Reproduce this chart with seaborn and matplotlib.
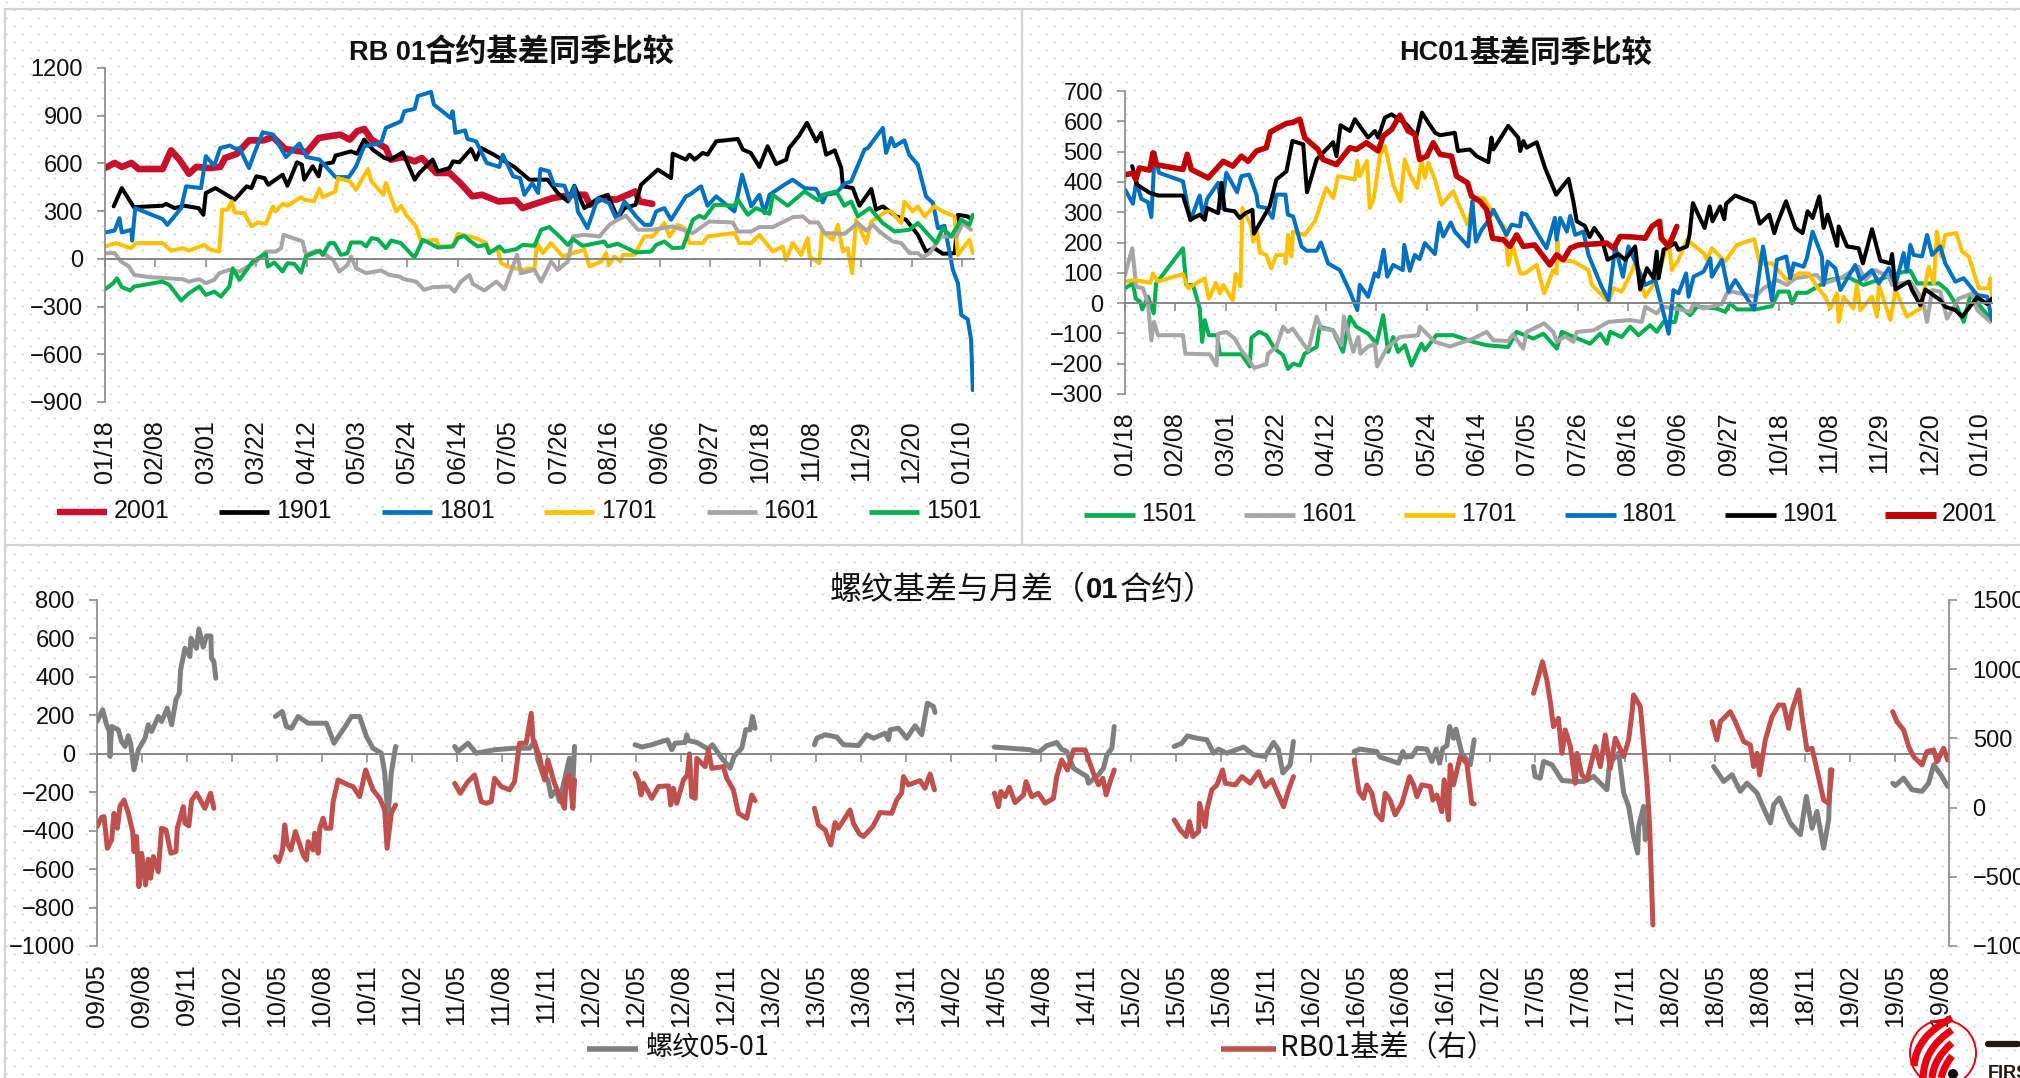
import numpy as np
import pandas as pd
import matplotlib
matplotlib.use('Agg')
import matplotlib.pyplot as plt
from matplotlib.lines import Line2D
from matplotlib.patches import Circle, PathPatch
from matplotlib.path import Path
import seaborn as sns

# season ticks, every 21 days
season_ticks = ['01/18', '02/08', '03/01', '03/22', '04/12', '05/03', '05/24', '06/14', '07/05',
                '07/26', '08/16', '09/06', '09/27', '10/18', '11/08', '11/29', '12/20', '01/10']
month_ticks = ['09/05', '09/08', '09/11', '10/02', '10/05', '10/08', '10/11', '11/02', '11/05', '11/08', '11/11',
               '12/02', '12/05', '12/08', '12/11', '13/02', '13/05', '13/08', '13/11', '14/02', '14/05', '14/08',
               '14/11', '15/02', '15/05', '15/08', '15/11', '16/02', '16/05', '16/08', '16/11', '17/02', '17/05',
               '17/08', '17/11', '18/02', '18/05', '18/08', '18/11', '19/02', '19/05', '19/08']

# RB 01 basis, (day, value)
rb2001 = [(0,571),(4,603),(7,578),(11,603),(14,565),(24,565),(27.5,682),(31,624),(35,535),(38,578),(43.5,571),
          (48,578),(50,634),(55,661),(60,745),(66,745),(70,766),(75,691),(84,670),(89,760),(93.5,771),(98,781),
          (102,750),(105,802),(108,817),(111,750),(117,697),(119,624),(124,640),(129,613),(132,634),(138,540),
          (143.5,540),(148,477),(153,393),(157,403),(164,361),(171,368),(174,319),(178,340),(186.5,382),(195,403),
          (200,403),(202,340),(207,382),(213,372),(221,424),(222.6,361),(228,346)]
rb1901 = [(3.6,330),(7,445),(12,325),(24,334),(25.4,346),(29,319),(33,334),(39,319),(41,277),(42,414),(46,445),
          (54,372),(59,456),(61,445),(63,519),(66.4,508),(68,466),(74,529),(76,460),(80,607),(82,592),(83,498),
          (86.5,582),(89,519),(90,592),(95,607),(96,649),(102.5,676),(105,661),(108,750),(111.5,687),(116.4,634),
          (119,624),(124,670),(129,498),(131,540),(136.5,624),(138.6,550),(143.5,571),(145,613),(147.6,607),
          (152.5,691),(154.6,624),(156.7,697),(162,655),(170.5,578),(176.8,498),(184.4,498),(188.6,414),(192.8,361),
          (195.5,460),(199.7,319),(206,382),(209.4,403),(213.6,256),(216.4,319),(221,340),(223.3,466),(230.3,561),
          (235.8,508),(236.5,661),(242,624),(243.5,655),(245.6,624),(249,666),(251,655),(254.6,739),(263.6,754),
          (265.7,687),(269,666),(272.6,578),(276,708),(279.6,596),(283.8,624),(285,697),(289,771),(292.4,855),
          (296.3,739),(298.3,792),(300.4,655),(304,682),(306.7,571),(307.4,456),(311.5,445),(314.3,334),(319.2,439),
          (321.2,309),(324,330),(329.6,267),(333.7,246),(338.6,151),(342,46),(345.5,67),(349,32),(354,36),(355.3,277),
          (359.4,267),(360.8,250)]
rb1801 = [(0,166),(4,178),(6,256),(7,166),(11,183),(11.3,115),(12.6,319),(24,250),(26,214),(31.7,319),(33.8,456),
          (40,445),(42,645),(45.5,586),(48,697),(52,712),(54.6,691),(56,697),(60,571),(62,655),(65.7,796),(70,781),
          (75.4,640),(81,725),(84,640),(89.4,624),(96,514),(101.6,514),(104.6,582),(108,708),(115,729),(117,823),
          (123.3,865),(124.7,928),(129,943),(130.3,1023),(135.8,1050),(137,970),(144,886),(144.8,928),(146,792),
          (150,808),(151,754),(154.6,739),(159,603),(164.3,578),(165.7,655),(170,519),(172.9,508),(174.7,403),
          (178,477),(180.4,414),(181.4,565),(185,550),(187,466),(191.4,460),(193.5,372),(195.5,456),(197,298),
          (201,193),(205.3,382),(210,351),(213.2,246),(216.4,361),(221.2,267),(224.7,214),(227.5,214),(229.6,298),
          (233,319),(235.8,246),(242,393),(243.5,403),(248.3,456),(251,334),(254.6,393),(262.2,298),(265.4,529),
          (269.2,330),(272.6,403),(274.7,288),(276.8,403),(283,466),(286.5,498),(291.4,445),(296.2,439),(299,355),
          (300.4,403),(304.6,414),(308,472),(310.8,487),(316.4,687),(317.8,697),(324,823),(325.4,666),(327.5,760),
          (328.9,708),(333,745),(335,655),(338.6,592),(342,393),(344.9,351),(347,193),(349.7,208),(353.2,-69),
          (355.3,-153),(356.7,-353),(359.4,-380),(360.8,-510),(361.5,-825)]
rb1701 = [(0,78),(4.6,99),(10.8,67),(13,99),(24,99),(27.5,52),(32.4,67),(35,52),(41.4,88),(44,57),(47.6,46),
          (48.8,309),(51,309),(52.8,361),(54,292),(58,288),(61,204),(63.6,229),(67,220),(68.5,277),(70,330),(71,298),
          (74,346),(76,334),(81.7,388),(83,372),(87,361),(89.3,439),(90.7,388),(96,424),(97,508),(102,487),(104.6,435),
          (109.5,565),(111,487),(116,403),(117,477),(121.3,298),(123.3,334),(125.4,277),(129.6,204),(131.7,109),
          (138,120),(139,78),(144.8,78),(147,157),(154.6,130),(158.8,99),(160,46),(163.6,57),(165,-27),(167.8,-48),
          (174,-69),(178.9,-59),(180,99),(182.4,36),(185.8,99),(190.7,15),(194.9,36),(199.7,57),(201.8,-48),
          (206.7,-17),(208.7,36),(209.9,-38),(212.2,15),(214.6,-17),(215.7,25),(220.5,25),(224.7,141),(228.2,141),
          (233,225),(235.1,141),(238.6,214),(241.4,193),(243.5,99),(249,99),(251.1,141),(262.2,162),(264.3,99),
          (269.2,99),(272.6,151),(278.2,46),(282.3,78),(283.7,-6),(286.5,99),(290,25),(292.8,130),(293.5,15),
          (297.6,-27),(298.7,172),(303.2,120),(305.3,214),(307.4,46),(309.4,67),(311.2,-90),(312.9,246),(317.1,99),
          (319.2,235),(325.4,298),(327.5,298),(331.7,225),(333,361),(336.5,298),(338.6,330),(341.4,267),(345.5,330),
          (349,298),(353.9,267),(355.3,25),(360.1,120),(361.5,36)]
rb1601 = [(0,36),(4,36),(6.7,-17),(10,-48),(12.2,-101),(18.5,-115),(32.4,-128),(35,-143),(39.3,-128),(42,-153),
          (45.5,-132),(47.6,-90),(51.8,-69),(56,-80),(63,-17),(67,46),(71.2,46),(73.3,67),(74.4,151),(79.6,124),
          (82.3,109),(83.7,25),(88,52),(92,25),(95,-6),(97.6,-80),(101,-38),(102.5,15),(104.6,-59),(108.8,-90),
          (115,-73),(118.5,-101),(122.6,-111),(124.7,-128),(129.6,-143),(133,-195),(136.5,-178),(143.5,-174),
          (145.6,-206),(148.3,-143),(151.8,-101),(153.2,-157),(158,-199),(163,-143),(166.4,-191),(171.7,25),
          (173.3,-90),(178.9,-69),(181.7,-143),(185.8,-17),(188.6,-69),(192.8,-17),(194.9,141),(199.7,151),(206,141),
          (210.1,214),(213.6,246),(217,271),(222,183),(228.2,183),(236.5,204),(244.9,162),(251.8,235),(261.5,229),
          (263.6,172),(269.2,172),(272.6,200),(278.2,200),(286.5,262),(290.7,267),(293.5,229),(297,229),(299.7,162),
          (308,157),(313.6,225),(317.1,178),(319.9,214),(322.6,172),(328.2,109),(331.7,99),(335.1,36),(338.6,36),
          (340.7,10),(343.5,36),(348.3,141),(354.6,141),(357.4,225),(360.8,183)]
rb1501 = [(0,-191),(3.2,-157),(5,-122),(7,-178),(10.4,-199),(12.2,-174),(24,-143),(26.8,-164),(31.7,-262),(35,-216),
          (39.3,-174),(42,-227),(45.5,-206),(48.3,-237),(51.8,-174),(53.2,-59),(56,-132),(61.5,-17),(67,32),(67.8,-48),
          (70.6,-23),(74,-80),(76,-27),(78.9,-32),(81.7,-86),(83.7,15),(89.4,52),(90.7,25),(93.5,99),(95.5,99),(98.3,25),
          (101,36),(102.5,103),(106.7,103),(108.8,78),(111,130),(113.6,124),(117,67),(119.2,115),(123.3,99),(128.9,8),
          (132.4,120),(138.6,71),(144.9,78),(147,130),(149.7,145),(151.8,115),(155.3,78),(158.8,88),(160,36),(164.3,78),
          (166.4,46),(171.3,61),(174,88),(178.9,82),(181.7,183),(185.1,200),(189.3,141),(192.8,88),(194.9,124),(199,82),
          (208,109),(209.4,78),(213.6,95),(221.2,40),(227.5,46),(229.6,88),(233,109),(236.5,67),(240.7,71),(244.9,246),
          (247.6,271),(249.7,256),(253.9,340),(262.2,334),(263.6,372),(267.8,277),(271.2,319),(276.8,283),(278.2,403),
          (284.4,334),(291.4,424),(297,368),(299,403),(304.6,424),(308,334),(310.8,361),(313.6,267),(318.5,319),(324,225),
          (328.9,172),(335.1,183),(338.6,225),(346.2,99),(349,193),(352.5,141),(356.7,246),(360.1,214),(361.5,277)]

# HC 01 basis, (day, value)
hc2001 = [(0,424),(3.3,428),(4.5,408),(6,446),(10.3,439),(11.7,496),(13,457),(24.2,441),(26,491),(27.7,441),(34.7,413),
          (41,468),(45,452),(48.6,485),(51.4,468),(54.9,502),(59,513),(60.7,565),(67.4,593),(70,596),(73,607),(75,546),
          (80.6,507),(82.7,474),(88.3,457),(93.9,513),(96.6,507),(100.8,529),(105.7,502),(107.8,551),(111.3,573),
          (114.8,620),(118.2,568),(121,557),(123,474),(126,485),(128.7,529),(131.5,491),(136.3,485),(138.4,419),(143,397),
          (144.7,353),(148.2,336),(151,308),(153.5,214),(158,209),(160.7,187),(163.5,225),(166.3,187),(171,192),(177.4,126),
          (180.2,159),(183,143),(185.9,181),(189.3,192),(201.2,198),(204,181),(206.7,220),(212.3,218),(217.2,214),(220,253),
          (223.2,270),(223.9,214),(227,187),(230.4,253)]
hc1901 = [(3,452),(5,391),(10.3,364),(13.8,355),(24.2,355),(27.3,275),(31.2,292),(33.3,275),(34.3,314),(38.9,297),
          (40.3,397),(41.6,308),(45.8,303),(47.9,281),(50.4,297),(53.2,308),(53.8,229),(60.4,319),(63.2,408),(67.4,435),
          (69.9,535),(74.4,524),(76,366),(80,474),(86.9,531),(88.3,485),(90,587),(93.9,568),(96,607),(101.5,546),(104.3,568),
          (105.7,546),(108.5,612),(111.3,623),(117.5,590),(121.7,551),(124,629),(126.6,596),(129.5,562),(131.5,554),
          (137.7,562),(139,502),(144,507),(146.8,485),(151.7,465),(153,546),(153.8,507),(160,585),(164.2,546),(165,502),
          (166.3,535),(167.7,513),(171.9,531),(175.4,446),(180,358),(185.2,410),(187.2,336),(188.6,270),(192,255),(194,218),
          (195.9,248),(199,214),(201.5,143),(206,162),(208.8,143),(213,187),(215.1,45),(217.9,115),(220.7,82),(222,170),
          (222.8,82),(224.9,176),(229.7,198),(231.1,176),(234.6,187),(235.7,225),(237.1,330),(242,248),(244.1,319),
          (245.3,270),(248.5,319),(250.2,277),(251,328),(254.8,355),(262.7,330),(265,262),(269,292),(271.1,231),(272.5,266),
          (276,336),(279.9,248),(282.9,231),(285,303),(287.1,281),(289.9,352),(291.7,248),(293.4,292),(297.3,189),(298,253),
          (301.5,187),(306.3,181),(308.1,131),(311.9,244),(315.4,140),(319.6,131),(320.3,162),(321.7,45),(327.2,71),(328.6,43),
          (332.1,-7),(334.2,45),(340.4,10),(342.5,-12),(346.7,-23),(349.5,-45),(355.8,19),(360,-3),(362,15)]
hc1801 = [(0,375),(3.3,328),(4.7,402),(6.8,344),(9.6,333),(11,284),(12.4,496),(14.2,430),(24.2,402),(27.3,273),(31.2,355),
          (32.6,286),(34.3,344),(38.9,397),(40.3,314),(42.3,430),(46.8,366),(48.6,419),(51.8,424),(54.9,358),(55.6,319),
          (59,314),(61.6,281),(63.2,358),(67,358),(68,292),(70.2,286),(73.7,187),(75.8,173),(80,173),(81.8,200),(84.8,131),
          (89.7,109),(93.9,38),(97,-23),(98,60),(101.5,21),(104.3,98),(105.7,87),(108,176),(109.5,87),(112,126),(116,109),
          (116.6,192),(118.9,107),(121,159),(123,145),(125.2,198),(129.4,162),(131.2,266),(132.9,220),(136,266),(137.7,236),
          (143.3,187),(145,336),(146.5,203),(148.9,242),(151,264),(153.8,308),(159.3,225),(161.4,259),(164.9,253),(165.7,297),
          (167.7,292),(172.6,225),(176,181),(179.5,281),(180.2,209),(181.7,281),(184.5,236),(185.9,288),(188,225),(191.4,236),
          (193.5,159),(199,54),(201.9,10),(204.7,187),(207.9,87),(210.2,187),(217.2,60),(221.4,76),(227,-101),(229,43),
          (231.1,32),(234.3,98),(235.3,21),(237.4,87),(241.6,104),(244.4,148),(245,87),(249.2,143),(252,38),(254.8,76),
          (262.7,-21),(266.4,187),(270.1,10),(272.2,143),(276.1,154),(277.8,82),(279.2,131),(283.3,120),(284.7,148),(287.1,236),
          (291,154),(291.7,60),(293.4,137),(296.6,115),(298.7,43),(304.9,126),(307,76),(311.9,109),(314.7,65),(318.9,115),
          (321.7,60),(325.1,165),(326.5,104),(327.9,192),(329.3,159),(332.8,154),(334.9,225),(337,159),(340.4,187),(342.5,131),
          (346.7,71),(350.2,82),(355.8,27),(360,21),(362,-56)]
hc1701 = [(0,71),(4.3,76),(10.6,67),(11.7,98),(13.8,71),(24.2,96),(26.4,49),(33.3,82),(35,15),(38,67),(39.6,32),(41,60),
          (45,10),(46.2,96),(48.2,56),(49,314),(52.8,253),(53.5,203),(55.2,236),(56.3,167),(59,159),(61,115),(63.2,159),
          (66.7,159),(67.1,131),(68.1,225),(69.5,154),(70.2,236),(75,225),(79.3,270),(84,380),(87,347),(89,419),(96,408),
          (97,469),(98,419),(101,469),(102.2,314),(103.9,347),(106.4,485),(108.5,518),(109.9,469),(112,391),(115,336),
          (116.8,474),(119,424),(122,380),(123.8,469),(125.2,413),(126.6,463),(129.4,408),(132.2,325),(137,369),(143,259),
          (146,347),(149.6,347),(153.8,297),(158.6,248),(160,126),(162,187),(165,98),(167,98),(171.9,126),(175,32),(178.8,109),
          (180.2,98),(180.5,209),(181,143),(187.3,137),(193.5,109),(194.9,60),(201.9,4),(204,49),(207.4,38),(210.9,93),(213,131),
          (217.2,21),(222,76),(227,209),(228.3,109),(231.1,143),(234.6,209),(241.6,165),(243,143),(245,181),(250.6,137),(252,154),
          (255.5,192),(262.7,211),(265,131),(270.1,131),(276.4,76),(281.3,98),(285.4,98),(288.9,54),(292.4,21),(294.5,-18),
          (297.3,32),(298,-62),(300,21),(304.2,-18),(305.6,60),(307,-23),(311.9,21),(314,-45),(314.7,60),(319.6,-56),(321.7,43),
          (326.5,-45),(332.1,-18),(335.6,120),(337.7,65),(339,236),(340.7,154),(342.5,225),(347.1,231),(349.5,170),(352.3,154),
          (356.5,49),(360.6,49),(361.3,82),(362,21)]
hc1601 = [(0,93),(3,181),(4.7,54),(7.5,49),(9.6,-1),(11,-123),(12.1,-62),(13.8,-106),(24.2,-106),(25.2,-167),(35.4,-169),
          (38.2,-206),(38.9,-101),(42.3,-95),(45.8,-117),(48.6,-156),(51.4,-183),(53.9,-214),(59,-202),(59.7,-167),(63.2,-145),
          (66,-78),(68,-95),(70,-84),(74.4,-134),(76.5,-156),(80,-45),(82,-84),(86.9,-90),(90.4,-139),(91.4,-45),(95.3,-161),
          (97.4,-112),(98.3,-167),(101.5,-143),(104.3,-136),(105.3,-209),(109.2,-150),(114.8,-112),(122.4,-106),(123.1,-78),
          (129.4,-128),(135.7,-143),(145.4,-117),(151,-95),(153.8,-123),(160,-125),(162,-103),(166.3,-150),(167.7,-95),(175,-67),
          (178.8,-95),(180.3,-128),(183.8,-109),(187.2,-128),(188.6,-95),(195.6,-90),(201.9,-62),(210.9,-56),(215.8,-62),
          (217.2,-12),(222,-34),(224.2,-12),(230.4,-18),(236,-29),(237.4,-1),(241.6,-18),(249.2,-3),(251.3,32),(253.4,38),
          (263.2,21),(266.6,49),(272.2,76),(276.4,60),(279.9,82),(288.9,93),(291.7,65),(298.7,82),(306.3,120),(309.1,76),
          (313.3,109),(318.9,87),(320.3,60),(327.9,71),(332.8,15),(334.9,-62),(337,43),(340.4,38),(343.2,-51),(348.1,15),
          (350.2,21),(353.7,32),(355.8,-23),(361.3,-62)]
hc1501 = [(0,49),(3.3,65),(4.5,15),(6.4,4),(7.2,-21),(9.6,21),(12,-34),(13,65),(24.2,181),(25.6,60),(28.4,60),(31.2,-18),
          (32.2,-128),(33.3,-56),(35,-106),(38.5,-106),(39.6,-169),(48.6,-169),(52.1,-209),(52.8,-114),(56,-95),(59,-106),
          (62.5,-150),(66,-172),(68.1,-217),(70.2,-200),(73,-206),(75,-167),(80,-145),(81.3,-78),(86.9,-90),(91,-161),(93.9,-45),
          (96.6,-78),(101.5,-101),(105,-134),(107.8,-40),(109.9,-161),(112,-112),(114,-161),(116.9,-139),(119.6,-206),(123.8,-134),
          (125.2,-156),(130,-106),(137,-106),(145.4,-128),(151,-139),(160,-145),(163.5,-95),(170.5,-117),(174.7,-101),(180.3,-150),
          (182.4,-95),(194.2,-134),(198.4,-101),(201.2,-134),(202.6,-95),(207.4,-112),(210.9,-78),(214.4,-106),(219.3,-73),
          (222,-95),(224.9,-62),(229.7,-62),(231.1,-7),(236,-40),(238.8,-12),(247.1,-18),(250.6,-29),(252.7,-1),(255.5,-21),
          (263.2,-21),(270.1,-10),(272.9,38),(277.1,38),(278.5,-1),(280.6,34),(284.7,34),(293.8,76),(301.5,87),(308.4,60),
          (322.3,98),(327.9,107),(330.7,65),(339.8,65),(343.2,43),(346.7,-1),(350.2,-62),(353,27),(362,-56)]

# rebar 05-01 spread, (month since 09/05, value)
spread_2009 = [(0,168),(.38,229),(.64,151),(.82,116),(.87,-14),(.98,142),(1.42,125),(1.64,64),(1.87,38),(2.09,94),(2.24,55),
               (2.47,-83),(2.76,21),(3.2,81),(3.42,151),(3.64,116),(4.09,194),(4.31,168),(4.69,237),(4.98,151),(5.27,281),
               (5.49,315),(5.58,437),(5.87,549),(6.2,506),(6.27,601),(6.64,549),(6.8,648),(7.09,555),(7.31,613),(7.6,613),
               (7.64,497),(7.8,480),(7.93,393)]
spread_2010 = [(11.9,194),(12.36,220),(12.64,142),(12.98,133),(13.42,194),(14.09,159),(15.31,159),(15.82,55),(16.64,151),
               (16.98,194),(17.53,194),(17.98,90),(18.42,29),(18.98,3),(19.2,-100),(19.42,-326),(19.64,-100),(19.93,38)]
spread_2011 = [(23.87,38),(24.09,12),(24.76,55),(25.31,3),(26.53,21),(27.87,29),(28.87,29),(29.2,64),(29.42,-31),(29.76,-109),
               (30.09,-135),(30.31,-222),(30.64,-187),(30.87,-248),(31.2,-135),(31.53,-23),(31.76,-152),(31.87,38)]
spread_2012 = [(35.91,47),(36.36,35),(37.02,47),(38.07,73),(38.36,21),(38.58,55),(39.25,59),(39.36,99),(39.47,69),(40.03,59),
               (40.8,24),(41.07,47),(41.7,-23),(42.25,-75),(42.52,-14),(43.03,29),(43.3,125),(43.59,125),(43.74,194),(43.92,133)]
spread_2013 = [(47.88,47),(48.04,81),(48.59,99),(49.37,87),(49.82,47),(50.82,43),(51.37,99),(51.82,81),(52.6,107),(52.82,73),
               (52.93,125),(53.49,133),(54.04,81),(54.6,146),(55.04,99),(55.42,263),(55.82,246),(55.93,215)]
spread_2014 = [(59.89,35),(60.94,29),(62.27,21),(62.83,7),(63.38,42),(64.05,59),(64.38,24),(64.72,12),(65.17,-75),(66.06,-118),
               (66.17,-153),(66.84,-109),(67.17,-75),(67.4,-5),(67.73,29),(67.89,142)]
spread_2015 = [(71.89,38),(72.4,55),(72.78,93),(73.4,81),(74.07,73),(74.52,3),(74.85,24),(75.41,3),(76.52,35),(77.19,-5),
               (77.96,-14),(78.52,59),(78.85,21),(79.14,-100),(79.63,-57),(79.85,64)]
spread_2016 = [(83.9,12),(84.3,24),(85.4,12),(85.64,-17),(86.86,-49),(87.15,12),(87.31,-17),(87.75,-14),(88.09,29),(88.75,24),
               (89.09,-40),(89.38,24),(89.6,-49),(89.82,29),(90.09,42),(90.27,142),(90.53,81),(90.69,128),(91.09,3),(91.65,-57),(91.91,73)]
spread_2017 = [(95.87,-66),(95.98,-118),(96.32,-127),(96.54,-40),(97.1,-57),(97.77,-139),(98.55,-144),(99.22,-144),(99.88,-118),
               (100.77,-187),(100.95,-49),(101.55,3),(101.89,-204),(102.22,-274),(102.55,-430),(102.82,-516),(102.89,-378),
               (103.22,-274),(103.33,-447),(103.44,-360)]
spread_2018 = [(107.89,-66),(108.56,-144),(109.12,-109),(109.67,-195),(110.12,-153),(110.79,-204),(111.12,-265),(111.68,-360),
               (111.9,-265),(112.28,-230),(113.01,-360),(113.68,-421),(114.08,-222),(114.46,-387),(114.79,-300),(115.23,-491),
               (115.57,-343),(115.68,-83)]
spread_2019 = [(119.84,-153),(120.02,-165),(120.57,-127),(121.13,-187),(121.8,-195),(122.24,-153),(122.58,-57),(123.13,-118),(123.51,-170)]

# RB01 basis on the right axis
basis_2009 = [(0,-137),(.31,-70),(.47,-65),(.69,-294),(.98,-234),(1.13,-41),(1.36,-149),(1.53,7),(1.8,55),(2.09,-41),(2.38,-173),
              (2.47,-318),(2.64,-209),(2.8,-571),(2.98,-330),(3.24,-559),(3.42,-373),(3.58,-510),(3.76,-354),(4.09,-462),(4.31,-149),
              (4.6,-161),(4.93,-330),(5.27,-318),(5.36,-149),(5.76,7),(5.87,-113),(6.13,-132),(6.31,51),(6.64,104),(7.2,-5),(7.58,104),(7.8,-5)]
basis_2010 = [(11.9,-354),(12.13,-390),(12.38,-306),(12.53,-125),(12.69,-258),(12.93,-306),(13.24,-173),(13.76,-342),(13.98,-378),
              (14.09,-246),(14.42,-306),(14.53,-185),(14.76,-330),(14.87,-149),(15.09,-77),(15.27,-149),(15.6,-149),(15.76,43),(16.09,200),
              (16.76,164),(17.09,152),(17.53,79),(17.93,272),(18.42,128),(18.87,67),(19.2,-17),(19.36,-294),(19.64,-41),(19.93,19)]
basis_2011 = [(23.87,176),(24.24,104),(24.76,188),(25.2,236),(25.64,43),(25.98,31),(26.31,43),(26.53,212),(26.98,152),(27.53,128),
              (27.87,188),(28.2,465),(28.64,465),(28.98,681),(29.09,501),(29.53,368),(29.87,200),(30.09,344),(30.53,176),(31.2,-5),
              (31.31,200),(31.53,236),(31.76,-5),(31.87,200)]
basis_2012 = [(35.91,248),(36.13,200),(36.31,92),(36.47,176),(37.02,67),(37.47,152),(38.14,157),(38.29,19),(38.47,140),(38.69,31),
              (39.14,200),(39.4,236),(39.54,388),(39.69,79),(39.92,67),(40.03,356),(40.58,296),(40.8,417),(41.03,284),(41.8,296),
              (42.03,212),(42.47,128),(42.81,-41),(43.36,-77),(43.7,91),(43.92,50)]
basis_2013 = [(47.88,-5),(48.15,-125),(48.59,-161),(48.97,-270),(49.26,-108),(49.48,-149),(50.26,-17),(50.48,-113),(50.88,-190),
              (51.15,-209),(51.78,-137),(52.26,-36),(53.04,-41),(53.37,55),(53.7,104),(53.82,224),(54.15,164),(54.92,195),(55.26,140),
              (55.6,243),(55.89,128)]
basis_2014 = [(59.89,104),(60.16,7),(60.32,116),(60.6,79),(60.89,147),(61.27,36),(61.83,91),(62,188),(62.38,79),(62.83,104),
              (63.28,31),(63.83,67),(64.05,224),(64.38,344),(64.77,272),(65.17,417),(65.5,417),(65.95,417),(66.5,248),(66.84,164),
              (67.13,212),(67.35,92),(67.62,188),(67.89,272)]
basis_2015 = [(71.89,-89),(72.29,-161),(72.69,-209),(72.91,-101),(73.14,-209),(73.52,-173),(73.58,31),(73.96,-137),(74.07,-17),
              (74.4,128),(74.74,164),(75.12,272),(75.3,176),(75.96,164),(76.41,224),(76.97,176),(77.52,260),(77.96,152),(78.41,200),
              (79.19,7),(79.52,128),(79.85,224)]
basis_2016 = [(83.9,344),(84.22,116),(84.53,67),(84.75,164),(85.08,104),(85.37,-41),(85.75,-89),(85.97,104),(86.3,55),(86.64,-53),
              (87.09,31),(87.6,224),(87.87,164),(88.09,79),(88.42,164),(88.98,152),(89.15,55),(89.42,91),(89.75,-29),(89.91,200),
              (90.2,-89),(90.31,308),(90.53,164),(90.98,368),(91.42,320),(91.75,31),(91.91,26)]
basis_2017 = [(95.87,826),(96.1,910),(96.47,1054),(96.76,922),(96.99,766),(97.2,585),(97.53,645),(97.77,392),(97.99,561),(98.33,441),
              (98.66,176),(98.77,392),(99.1,236),(99.44,200),(100,441),(100.33,296),(100.66,525),(101,284),(101.33,501),(101.89,368),
              (102.22,489),(102.44,681),(102.55,814),(103,730),(103.22,465),(103.44,188),(103.62,-137),(103.84,-848)]
basis_2018 = [(107.78,621),(108.11,489),(108.34,621),(109,693),(109.34,621),(109.9,477),(110.34,453),(110.56,296),(110.79,392),
              (110.96,236),(111.34,489),(111.79,657),(112.23,741),(112.57,741),(112.9,573),(113.13,705),(113.57,850),(113.79,657),
              (114.12,417),(114.46,429),(114.79,272),(115.23,55),(115.57,31),(115.79,272)]
basis_2019 = [(119.84,693),(120.13,621),(120.57,561),(120.91,441),(121.24,368),(121.8,308),(122.13,405),(122.58,417),(122.8,332),
              (123.24,429),(123.51,344)]

rb_names = ['2001', '1901', '1801', '1701', '1601', '1501']
rb_series = [rb2001, rb1901, rb1801, rb1701, rb1601, rb1501]
hc_names = ['1501', '1601', '1701', '1801', '1901', '2001']
hc_series = [hc1501, hc1601, hc1701, hc1801, hc1901, hc2001]
spread_seasons = [spread_2009, spread_2010, spread_2011, spread_2012, spread_2013, spread_2014,
                  spread_2015, spread_2016, spread_2017, spread_2018, spread_2019]
basis_seasons = [basis_2009, basis_2010, basis_2011, basis_2012, basis_2013, basis_2014,
                 basis_2015, basis_2016, basis_2017, basis_2018, basis_2019]

rb_colors = {'2001': '#C8102E', '1901': '#000000', '1801': '#0070C0', '1701': '#FFC000', '1601': '#A9A5A5', '1501': '#00B050'}
hc_colors = {'1501': '#00B050', '1601': '#A6A6A6', '1701': '#FFC000', '1801': '#0070C0', '1901': '#000000', '2001': '#C00000'}
axis_grey = '#868686'

W, H = 2020, 1078
CJK = ['Noto Sans CJK SC', 'DejaVu Sans']
NUM = ['Liberation Sans', 'DejaVu Sans']

sns.set_theme(style='white')
plt.rcParams['font.family'] = NUM

fig = plt.figure(figsize=(W / 100, H / 100), dpi=100, facecolor='white')


def add_axes_px(left, top, right, bottom):
    return fig.add_axes([left / W, 1 - bottom / H, (right - left) / W, (bottom - top) / H], facecolor='none')


def draw_season(ax, series, names, colors, widths):
    for name, rows in zip(names, series):
        df = pd.DataFrame(rows, columns=['day', 'basis'])
        sns.lineplot(data=df, x='day', y='basis', ax=ax, color=colors[name], lw=widths.get(name, 2.9),
                     estimator=None, sort=False, errorbar=None, legend=False)


def style_axis(ax, ylim, yticks, xlim, xticks, xlabels):
    ax.set(xlabel='', ylabel='', xlim=xlim, ylim=ylim)
    ax.set_yticks(yticks)
    ax.set_xticks(xticks)
    ax.spines['top'].set_visible(False)
    ax.spines['right'].set_visible(False)
    ax.spines['left'].set_color(axis_grey)
    ax.spines['left'].set_linewidth(1.2)
    ax.spines['bottom'].set_position(('data', 0))
    ax.spines['bottom'].set_color(axis_grey)
    ax.spines['bottom'].set_linewidth(1.4)
    ax.tick_params(axis='y', left=True, length=6, width=1.1, color=axis_grey, pad=10, labelsize=17, labelcolor='#111111')
    ax.tick_params(axis='x', bottom=True, length=6, width=1.1, color=axis_grey, labelbottom=False)
    sec = ax.secondary_xaxis('bottom')
    sec.set_xticks(xticks, labels=xlabels)
    sec.tick_params(axis='x', length=0, pad=13, labelsize=18, labelrotation=90, labelcolor='#111111')
    sec.spines['bottom'].set_visible(False)


# dotted page background and panel frames
bg = fig.add_axes([0, 0, 1, 1], zorder=-5)
bg.set(xlim=(0, W), ylim=(H, 0))
bg.axis('off')
for i, row_y in enumerate(np.arange(2, H, 8)):
    col_x = np.arange(6 + (i % 2) * 8, W, 16)
    bg.plot(col_x, np.full(col_x.shape, row_y), ls='none', marker='o', ms=1.5, mew=0, color='#D2D2D2')
frame = '#D4D4D4'
for xs, ys in [((5, W), (9, 9)), ((5, 5), (9, H)), ((1022, 1022), (9, 545)), ((5, W), (545, 545))]:
    bg.plot(xs, ys, color=frame, lw=1.6)

# RB panel
ax1 = add_axes_px(105, 68, 974, 402)
draw_season(ax1, rb_series, rb_names, rb_colors, {'2001': 4.8})
style_axis(ax1, (-900, 1200), np.arange(-900, 1201, 300), (0, 362), np.arange(18) * 21, season_ticks)

# HC panel
ax2 = add_axes_px(1125, 91, 1992, 394)
draw_season(ax2, hc_series, hc_names, hc_colors, {'2001': 4.0})
style_axis(ax2, (-300, 700), np.arange(-300, 701, 100), (0, 362), np.arange(18) * 21, season_ticks)

# spread and basis panel
ax3 = add_axes_px(97, 600, 1949, 946)
ax4 = ax3.twinx()
ax4.set_facecolor('none')
spread_df = pd.concat([pd.DataFrame(r, columns=['month', 'value']).assign(season=i) for i, r in enumerate(spread_seasons)])
basis_df = pd.concat([pd.DataFrame(r, columns=['month', 'value']).assign(season=i) for i, r in enumerate(basis_seasons)])
sns.lineplot(data=spread_df, x='month', y='value', units='season', estimator=None, sort=False, errorbar=None,
             color='#7F7F7F', lw=3.6, ax=ax3, legend=False)
sns.lineplot(data=basis_df, x='month', y='value', units='season', estimator=None, sort=False, errorbar=None,
             color='#C0504D', lw=3.6, ax=ax4, legend=False)
style_axis(ax3, (-1000, 800), np.arange(-1000, 801, 200), (0, 123.6), np.arange(42) * 3, month_ticks)
ax4.set(xlabel='', ylabel='', xlim=(0, 123.6), ylim=(-1000, 1500))
ax4.set_yticks(np.arange(-1000, 1501, 500))
for side in ['top', 'left', 'bottom']:
    ax4.spines[side].set_visible(False)
ax4.spines['right'].set_color(axis_grey)
ax4.spines['right'].set_linewidth(1.2)
ax4.tick_params(axis='y', right=True, length=6, width=1.1, color=axis_grey, pad=11, labelsize=17, labelcolor='#111111')
ax4.grid(False)

# overlay in pixel coordinates for titles, legends, logo
top = fig.add_axes([0, 0, 1, 1], zorder=10, facecolor='none')
top.set(xlim=(0, W), ylim=(H, 0))
top.axis('off')


def label(x, y, s, size, family=CJK, weight='normal', ha='left'):
    top.text(x, y, s, fontsize=size, family=family, weight=weight, ha=ha, va='center', color='#111111')


def legend_item(x0, x1, y, color, lw, text, tx, size=18, family=None):
    top.add_line(Line2D([x0, x1], [y, y], color=color, lw=lw, solid_capstyle='butt'))
    label(tx, y - 1, text, size, family=family or NUM)


label(349, 53, 'RB 01', 19.5, family=NUM, weight='bold')
label(424, 53, '合约基差同季比较', 22.5, weight='bold')
label(1399, 53, 'HC01', 19.5, family=NUM, weight='bold')
label(1469, 53, '基差同季比较', 22, weight='bold')
label(830, 590, '螺纹基差与月差（', 23, weight='medium')
label(1086, 590, '01', 21, family=NUM, weight='bold')
label(1120, 590, '合约）', 23, weight='medium')

for i, name in enumerate(rb_names):
    x = 57 + 162.4 * i
    legend_item(x, x + 50, 512, rb_colors[name], 4.6 if name == '2001' else 3.4, name, x + 57)
for i, name in enumerate(hc_names):
    x = 1084 + 160.2 * i
    legend_item(x, x + 51, 515, hc_colors[name], 5.0 if name == '2001' else 3.4, name, x + 57)
legend_item(587, 638, 1049, '#7F7F7F', 4, '螺纹05-01', 646, size=19.5, family=CJK)
legend_item(1221, 1276, 1049, '#C0504D', 4, 'RB01基差（右）', 1280, size=21, family=CJK)

# logo, cut by the page edge like the source
logo_red = '#E60012'
top.add_patch(Circle((1943, 1053), 33, fill=False, ec=logo_red, lw=1.4, clip_on=True))
for p0, p1, p2 in [((1914, 1066), (1916, 1036), (1952, 1018)), ((1923, 1078), (1924, 1048), (1952, 1030)),
                   ((1932, 1078), (1934, 1058), (1952, 1043)), ((1941, 1078), (1944, 1066), (1952, 1056))]:
    curve = Path([p0, p1, p2], [Path.MOVETO, Path.CURVE3, Path.CURVE3])
    top.add_patch(PathPatch(curve, fc='none', ec=logo_red, lw=5.2))
top.add_patch(Circle((1953, 1074), 5, fc='#111111', ec='none'))
top.add_line(Line2D([1988, 2018], [1044, 1044], color='#231815', lw=4.5))
top.text(1988, 1074, 'FIRST', fontsize=13, weight='bold', family=NUM, color='#231815', va='center')

fig.savefig('out.png', dpi=100)
